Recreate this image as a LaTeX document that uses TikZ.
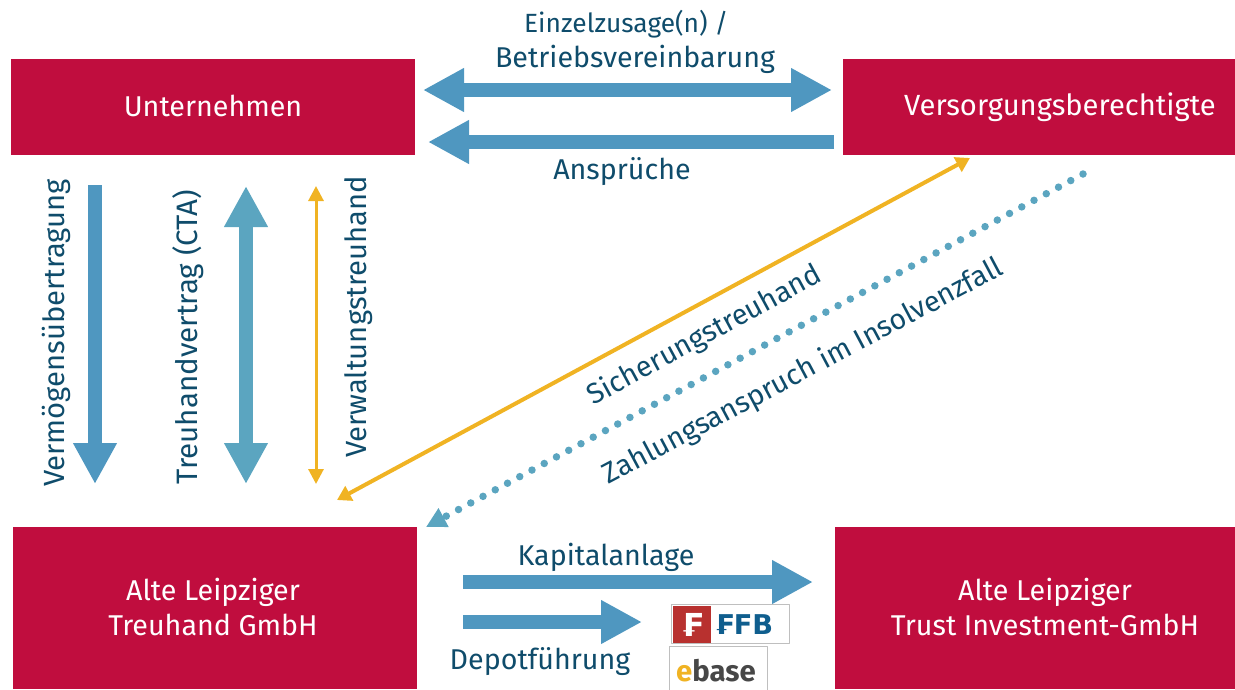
\documentclass[tikz,border=0pt]{standalone}
\usepackage{fontspec}
\setmainfont{Fira Sans}
\newfontfamily\franc{DejaVu Sans}
\usetikzlibrary{arrows.meta}
\definecolor{albox}{HTML}{C00D3E}
\definecolor{altext}{HTML}{0F4C6B}
\definecolor{alblue}{HTML}{4F97C0}
\definecolor{alteal}{HTML}{5BA5C0}
\definecolor{alyellow}{HTML}{F0B323}
\definecolor{ffbred}{HTML}{B8312F}
\definecolor{ffbblue}{HTML}{0F5E8E}
\tikzset{
	redbox/.style={fill=albox, text=white, align=center, inner sep=0pt, font=\fontsize{16.3}{20}\selectfont},
	lbl/.style={text=altext, align=center, inner sep=0pt, font=\fontsize{16.3}{20}\selectfont},
	fatarrow/.style={line width=2.8mm, -{Triangle[length=8.2mm,width=8.2mm]}},
	fatboth/.style={line width=2.8mm, {Triangle[length=8.2mm,width=8.2mm]}-{Triangle[length=8.2mm,width=8.2mm]}},
	logobox/.style={draw=black!25, fill=white, line width=0.2mm, inner sep=0pt}
}
\begin{document}
\begin{tikzpicture}[x=0.2mm, y=-0.2mm, line join=round, >=stealth]
	\useasboundingbox (0,0) rectangle (1235,689);
	% boxes
	\node[redbox, minimum width=80.8mm, minimum height=19.2mm] (unternehmen) at (213,107) {\raisebox{0.6mm}{Unternehmen}};
	\node[redbox, minimum width=78.4mm, minimum height=19.2mm] (berechtigte) at (1039,107) {\hspace*{8.4mm}\raisebox{0.4mm}{\fontsize{16.6}{20}\selectfont Versorgungsberechtigte}};
	\node[redbox, minimum width=80.8mm, minimum height=32.4mm] (treuhand) at (215,608) {};
	\node[redbox, minimum width=80mm, minimum height=32.4mm] (trust) at (1035,608) {};
	\node[redbox] (treuhandtext) at (213,607) {Alte Leipziger\\Treuhand GmbH};
	\node[redbox] (trusttext) at (1045,607) {Alte Leipziger\\Trust Investment-GmbH};
	\path (423,90) coordinate (zusageL)
		(832,90) coordinate (zusageR)
		(834,142) coordinate (anspruchR)
		(428,142) coordinate (anspruchL)
		(95,185) coordinate (vermoegenT)
		(95,484) coordinate (vermoegenB)
		(246,186) coordinate (vertragT)
		(246,484) coordinate (vertragB)
		(316,186) coordinate (verwaltT)
		(316,484) coordinate (verwaltB)
		(970,158) coordinate (sicherT)
		(337,500) coordinate (sicherB)
		(1083,174) coordinate (zahlungT)
		(426,527) coordinate (zahlungB)
		(463,582) coordinate (kapitalL)
		(813,582) coordinate (kapitalR)
		(463,622) coordinate (depotL)
		(642,622) coordinate (depotR);
	% arrows
	\draw[fatboth, alblue] (zusageL)--(zusageR);
	\draw[fatarrow, alblue] (anspruchR)--(anspruchL);
	\draw[fatarrow, alblue] (vermoegenT)--(vermoegenB);
	\draw[fatboth, alteal] (vertragT)--(vertragB);
	\draw[alyellow, line width=0.6mm, {Triangle[length=3mm,width=3mm]}-{Triangle[length=3mm,width=3mm]}] (verwaltT)--(verwaltB);
	\draw[alyellow, line width=0.8mm, {Triangle[length=2.8mm,width=3.2mm]}-{Triangle[length=2.8mm,width=3.2mm]}] (sicherT)--(sicherB);
	\draw[alteal, line width=1.5mm, line cap=round, dash pattern=on 0pt off 2.78mm, -{Triangle[length=4mm,width=4mm]}] (zahlungT)--(zahlungB);
	\draw[fatarrow, alblue] (kapitalL)--(kapitalR);
	\draw[fatarrow, alblue] (depotL)--(depotR);
	% labels
	\node[lbl] (zusage) at (635,42) {\hspace*{-10pt}{\fontsize{15}{20}\selectfont Einzelzusage(n) /}\\Betriebsvereinbarung};
	\node[lbl] (anspruch) at (622,172) {Ansprüche};
	\node[lbl, rotate=90] (vermoegen) at (56,333) {\fontsize{16.6}{20}\selectfont Vermögensübertragung};
	\node[lbl, rotate=90] (vertrag) at (188,337) {\fontsize{16.8}{20}\selectfont Treuhandvertrag (CTA)};
	\node[lbl, rotate=90] (verwalt) at (359,317) {\fontsize{16.6}{20}\selectfont Verwaltungstreuhand};
	\node[lbl, rotate=28.5] (sicher) at (705,336) {Sicherungstreuhand};
	\node[lbl, rotate=28] (zahlung) at (803,372) {Zahlungsanspruch im Insolvenzfall};
	\node[lbl] (kapital) at (606,557) {Kapitalanlage};
	\node[lbl] (depot) at (540,662) {Depotführung};
	% logos
	\node[logobox, minimum width=23.6mm, minimum height=7.8mm] (ffb) at (730,623.5) {};
	\node[fill=ffbred, text=white, inner sep=0pt, minimum width=7.6mm, minimum height=7.4mm, font=\franc\bfseries\fontsize{18}{18}\selectfont] (ffbmark) at (692,624.5) {₣};
	\node[text=ffbblue, inner sep=0pt, font=\franc\bfseries\fontsize{15.5}{15.5}\selectfont] (ffbname) at (744,625) {₣FB};
	\node[logobox, minimum width=19.6mm, minimum height=9mm, anchor=north west] (ebase) at (669,646) {};
	\node[inner sep=0pt, text=black!72, font=\bfseries\fontsize{16.7}{16.7}\selectfont] (ebasename) at (716,671) {\textcolor{alyellow}{e}base};
\end{tikzpicture}
\end{document}
